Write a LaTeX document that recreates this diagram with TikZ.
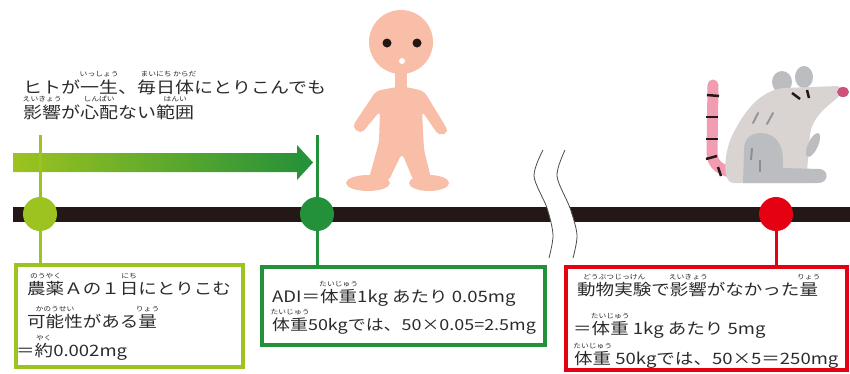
\documentclass[tikz,border=0pt]{standalone}
\usepackage{fontspec}
\setmainfont{Noto Sans CJK JP}[FakeStretch=1.18]
\definecolor{ink}{HTML}{2B2B2B}
\definecolor{leaf}{HTML}{9CC31F}
\definecolor{forest}{HTML}{23903A}
\definecolor{alarm}{HTML}{E50012}
\definecolor{barcol}{HTML}{231815}
\definecolor{skin}{HTML}{F8BEA8}
\definecolor{fur}{HTML}{D9D4D1}
\definecolor{furdark}{HTML}{BCBDC1}
\definecolor{tailpink}{HTML}{F29CB1}
\definecolor{snout}{HTML}{D0507B}

% reading in small kana above a word
\newcommand{\furi}[2]{\mbox{\setbox0=\hbox{#1}\rlap{\hbox to\wd0{\hss\raisebox{1.0em}{\fontsize{6.6}{7}\selectfont #2}\hss}}\box0}}

\tikzset{
  dot/.style={circle, inner sep=0pt, minimum size=34pt},
  frame/.style={draw, line width=4pt, inner sep=0pt, rectangle},
  stem/.style={line width=3pt},
  txt/.style={anchor=base west, inner sep=0pt, text=ink, font=\fontsize{15.7}{18}\selectfont},
  headtxt/.style={txt, font=\fontsize{16.1}{18}\selectfont},
  breakline/.style={ink!85, line width=0.8pt},
}

\begin{document}
\begin{tikzpicture}[x=1pt, y=-1pt]
  \useasboundingbox (0,0) rectangle (850,373);

  % arrow over the safe range
  \shade[left color=leaf, right color=forest]
    (13,153) -- (297,153) -- (297,145) -- (313,162.5) -- (297,180) -- (297,172) -- (13,172) -- cycle;

  % time line
  \coordinate (barL) at (13,214);
  \coordinate (barR) at (850,214);
  \draw[barcol, line width=15pt] (barL) -- (barR);

  % break in the line
  \fill[white] plot[smooth] coordinates {(543,150) (534,176) (547,208) (553,235) (549,258)}
    -- plot[smooth] coordinates {(573,258) (577,235) (570,208) (557,176) (565,150)} -- cycle;
  \draw[breakline] plot[smooth] coordinates {(543,150) (534,176) (547,208) (553,235) (549,258)};
  \draw[breakline] plot[smooth] coordinates {(565,150) (557,176) (570,208) (577,235) (573,258)};

  % points on the line
  \node[dot, fill=leaf] (pA) at (40,214) {};
  \node[dot, fill=forest] (pB) at (317,214) {};
  \node[dot, fill=alarm] (pC) at (776,214) {};

  % boxes
  \node[frame, leaf, minimum width=227pt, minimum height=102pt] (boxA) at (129.5,316) {};
  \node[frame, forest, minimum width=283pt, minimum height=78pt] (boxB) at (403.5,306) {};
  \node[frame, alarm, minimum width=281pt, minimum height=103pt] (boxC) at (706.5,318.5) {};

  % stems
  \coordinate (tA) at (40,135);
  \coordinate (tB) at (317,135);
  \draw[stem, leaf] (tA) -- (pA) -- (pA |- boxA.north);
  \draw[stem, forest] (tB) -- (pB) -- (pB |- boxB.north);
  \draw[stem, alarm] (pC) -- (pC |- boxC.north);

  % heading
  \node[headtxt] (hdA) at (23,93)
    {ヒトが\furi{一生}{いっしょう}、\furi{毎日}{まいにち}\furi{体}{からだ}にとりこんでも};
  \node[headtxt] (hdB) at (23,118)
    {\furi{影響}{えいきょう}が\furi{心配}{しんぱい}ない\furi{範囲}{はんい}};

  % box texts
  \node[txt] (aA) at (27,294) {\furi{農薬}{のうやく}Ａの１\furi{日}{にち}にとりこむ};
  \node[txt] (aB) at (27,327) {\furi{可能性}{かのうせい}がある\furi{量}{りょう}};
  \node[txt] (aC) at (16,356) {＝\furi{約}{やく}0.002mg};

  \node[txt] (bA) at (272,302) {ADI＝\furi{体重}{たいじゅう}1kg あたり 0.05mg};
  \node[txt, font=\fontsize{15.2}{18}\selectfont] (bB) at (272,330)
    {\furi{体重}{たいじゅう}50kgでは、50×0.05=2.5mg};

  \node[txt] (cA) at (577,295) {\furi{動物実験}{どうぶつじっけん}で\furi{影響}{えいきょう}がなかった\furi{量}{りょう}};
  \node[txt] (cB) at (573,334) {＝\furi{体重}{たいじゅう} 1kg あたり 5mg};
  \node[txt] (cC) at (574,364) {\furi{体重}{たいじゅう} 50kgでは、50×5＝250mg};

  % person
  \fill[skin] (401,42) circle[radius=32];
  \fill[skin] (395,70) rectangle (407,92);
  \fill[skin, rounded corners=5pt]
    (396,87) -- (376,91) -- (352,127) -- (361,134) -- (380,111) -- (379,142)
    -- (368,182) -- (388,182) -- (402,153) -- (414,182) -- (432,182) -- (424,150)
    -- (422,111) -- (439,136) -- (449,132) -- (424,91) -- (406,87) -- cycle;
  \fill[skin] (368,183) circle[x radius=22, y radius=8];
  \fill[skin] (429,183) circle[x radius=20, y radius=8];
  \fill[barcol] (387,43) circle[radius=4.5];
  \fill[barcol] (417,43) circle[radius=4.5];
  \fill[white] (402,61) circle[radius=3];

  % rat
  \draw[tailpink, line width=11pt, line cap=round]
    (713,85) -- (712,152) .. controls (712,166) and (722,171) .. (736,173);
  \foreach \a/\b in {{(707,95)/(719,96)}, {(706,117)/(718,117)}, {(706,139)/(718,139)}, {(706,159)/(717,156)}, {(718,167)/(721,176)}}
    \draw[barcol, line width=2.5pt] \a -- \b;
  \fill[furdark] (782,82) circle[x radius=10, y radius=11];
  \fill[furdark] (804,77) circle[x radius=9, y radius=11];
  \fill[fur] (733,183) .. controls (722,183) and (723,150) .. (735,130)
    .. controls (748,105) and (765,89) .. (785,88) -- (838,86)
    .. controls (843,88) and (841,96) .. (836,99)
    .. controls (825,108) and (812,118) .. (810,135) -- (806,183) -- cycle;
  \fill[furdark] (743,183) -- (744,150) .. controls (744,137) and (752,133) .. (762,133)
    .. controls (776,134) and (783,145) .. (783,160) -- (783,168) -- (820,169)
    .. controls (829,170) and (829,183) .. (818,183) -- cycle;
  \fill[furdark, rotate around={-25:(813,145)}] (813,145) circle[x radius=5, y radius=13];
  \fill[snout] (843,92) circle[x radius=6, y radius=5];
  \draw[barcol, line width=2.5pt] (792,93) -- (800,99);
  \draw[barcol, line width=2.5pt] (807,90) -- (809,98);
  \draw[furdark!80!black, line width=2pt, line cap=round] (758,113) -- (753,123);
  \draw[furdark!80!black, line width=2pt, line cap=round] (773,113) -- (767,124);
  \draw[furdark!75!black, line width=2pt] (752,148) -- (751,160);
  \draw[furdark!75!black, line width=2pt] (760,160) -- (760,172);
\end{tikzpicture}
\end{document}
